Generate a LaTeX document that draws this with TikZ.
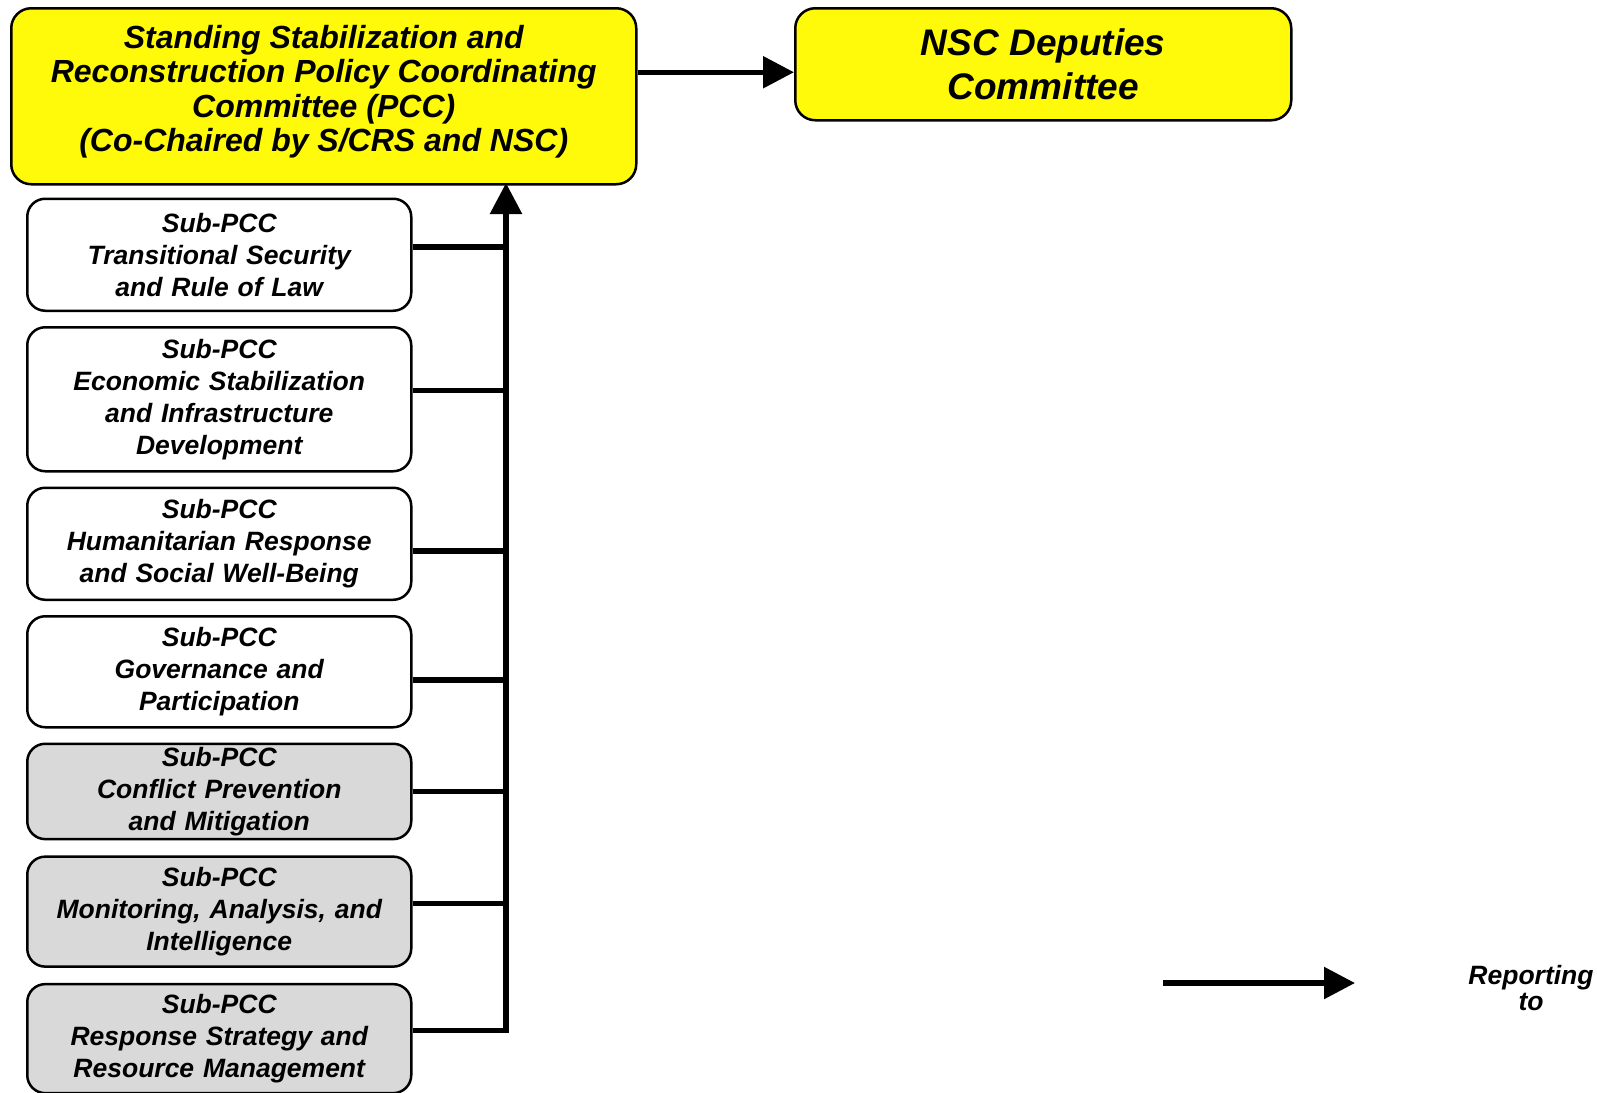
\documentclass[tikz,border=0pt]{standalone}
\usepackage{fontspec}
\setmainfont{Liberation Sans}
\usetikzlibrary{positioning}
\usetikzlibrary{arrows.meta}
\definecolor{pccyellow}{RGB}{255,250,10}
\definecolor{subgrey}{RGB}{217,217,217}

\begin{document}
\begin{tikzpicture}[x=1pt, y=-1pt,
    box/.style={rectangle, rounded corners=20pt, draw=black, line width=2.5pt, align=center, font=\bfseries\itshape},
    PCC/.style={box, fill=pccyellow, minimum width=625pt, minimum height=176pt, text depth=16pt, font=\bfseries\itshape\fontsize{32}{34.5}\selectfont},
    NSC/.style={box, fill=pccyellow, minimum width=496pt, minimum height=112pt, font=\bfseries\itshape\fontsize{37}{44}\selectfont},
    SUB/.style={box, fill=white, rounded corners=18pt, minimum width=384pt, text width=374pt, font=\bfseries\itshape\fontsize{26.5}{32}\selectfont},
    SUBG/.style={SUB, fill=subgrey},
    link/.style={black, line width=5.5pt},
    report/.style={link, -{Triangle[length=31pt, width=31pt]}}]

            \useasboundingbox (0,0) rectangle (1597,1092);

            \node[PCC, anchor=north west] (pcc) at (10,7)
                {Standing Stabilization and\\
                 Reconstruction Policy Coordinating\\
                 Committee (PCC)\\
                 (Co-Chaired by S/CRS and NSC)};
            \node[NSC, anchor=north west] (nsc) at (794,7)
                {NSC Deputies\\ Committee};

            \node[SUB, minimum height=112pt, below right = 12pt and 16pt of pcc.south west] (sub1)
                {Sub-PCC\\ Transitional Security\\ and Rule of Law};
            \node[SUB, minimum height=144pt, below = 14pt of sub1] (sub2)
                {Sub-PCC\\ Economic Stabilization\\ and Infrastructure\\ Development};
            \node[SUB, minimum height=112pt, below = 14pt of sub2] (sub3)
                {Sub-PCC\\ Humanitarian Response\\ and Social Well-Being};
            \node[SUB, minimum height=111pt, below = 14pt of sub3] (sub4)
                {Sub-PCC\\ Governance and\\ Participation};
            \node[SUBG, minimum height=93pt, below = 14pt of sub4] (sub5)
                {Sub-PCC\\ Conflict Prevention\\ and Mitigation};
            \node[SUBG, minimum height=110pt, below = 15pt of sub5] (sub6)
                {Sub-PCC\\ Monitoring, Analysis, and\\ Intelligence};
            \node[SUBG, minimum height=109pt, below = 15pt of sub6] (sub7)
                {Sub-PCC\\ Response Strategy and\\ Resource Management};

            \coordinate (busTop) at (506,183);

            \draw[report] ([yshift=24pt]pcc.east) -- ([yshift=24pt]pcc.east -| nsc.west);
            \draw[report, line join=miter] ([yshift=8pt]sub7.east) -| (busTop);
            \foreach \s/\dy in {sub1/8, sub2/9, sub3/-7, sub4/-8, sub5/0, sub6/8}
                \draw[link] ([yshift=\dy pt]\s.east) -- ([yshift=\dy pt]\s.east -| busTop);

            \coordinate (legStart) at (1163,983);
            \coordinate (legEnd) at (1355,983);
            \draw[report] (legStart) -- (legEnd);
            \node[font=\bfseries\itshape\fontsize{26.5}{26}\selectfont, align=center] (legText) at (1531,988)
                {Reporting\\ to};
        \end{tikzpicture}
\end{document}
